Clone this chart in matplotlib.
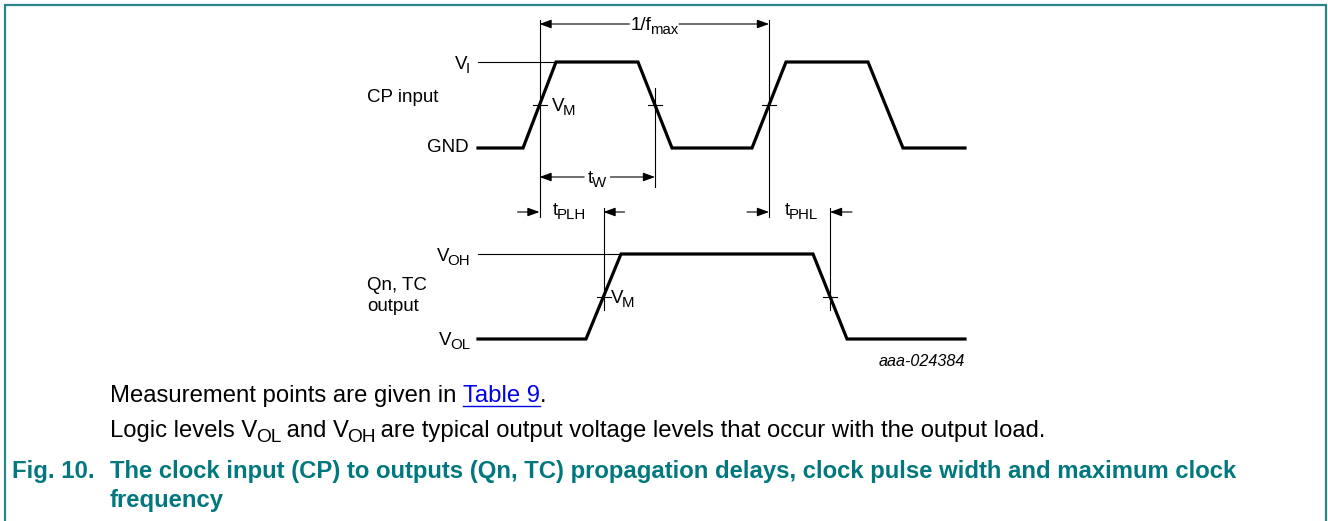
import numpy as np
import matplotlib
matplotlib.use("Agg")
import matplotlib.pyplot as plt

plt.rcParams["font.family"] = "Liberation Sans"

# ── Waveforms (time along the diagram, logic level 0/1) ───────────────────
cp_time = [478, 523, 556, 638, 672, 752, 786, 868, 903, 965]
cp_level = [0, 0, 1, 1, 0, 0, 1, 1, 0, 0]
out_time = [478, 586, 621, 813, 847, 965]
out_level = [0, 0, 1, 1, 0, 0]

cp_row = (148, 62)     # GND, VI
out_row = (339, 254)   # VOL, VOH

TEAL = "#00787d"
LBL = 13.5
BODY = 17.2


def to_y(level, row):
    return row[0] + (row[1] - row[0]) * np.asarray(level, dtype=float)


def crossings(t, lv, th=0.5):
    res = []
    for i in range(len(t) - 1):
        if (lv[i] - th) * (lv[i + 1] - th) < 0:
            res.append(t[i] + (th - lv[i]) / (lv[i + 1] - lv[i]) * (t[i + 1] - t[i]))
    return res


def arrow(ax, tip, tail):
    ax.annotate("", xy=tip, xytext=tail,
                arrowprops=dict(arrowstyle="-|>,head_length=0.6,head_width=0.22",
                                color="k", lw=0.8, mutation_scale=12,
                                shrinkA=0, shrinkB=0))


fig = plt.figure(figsize=(13.28, 5.21), dpi=100)
ax = fig.add_axes([0, 0, 1, 1])
ax.set_xlim(0, 1328)
ax.set_ylim(521, 0)
ax.axis("off")
R = fig.canvas.get_renderer()


def rich(x, y, parts, size, ha="left", color="k", weight="normal",
         sub_scale=0.8, drop=0.22, kern=0.1):
    """Text runs on one baseline; parts = [(string, is_subscript), ...]."""
    arts, cx, prev = [], x, None
    for s, is_sub in parts:
        if prev is not None and prev != is_sub:
            cx -= kern * size * 100 / 72
        fs = size * sub_scale if is_sub else size
        dy = size * drop * 100 / 72 if is_sub else 0
        t = ax.text(cx, y + dy, s, fontsize=fs, ha="left", va="baseline",
                    color=color, fontweight=weight)
        cx += t.get_window_extent(R).width
        arts.append(t)
        prev = is_sub
    total = cx - x
    shift = {"left": 0, "center": total / 2, "right": total}[ha]
    for t in arts:
        px, py = t.get_position()
        t.set_position((px - shift, py))
    return x - shift, x - shift + total, arts


# frame
ax.plot([5, 5, 1326, 1326], [521, 5, 5, 521], color="#2a8589", lw=1.6,
        solid_joinstyle="miter")

# waveforms
ax.plot(cp_time, to_y(cp_level, cp_row), color="k", lw=2.3, solid_joinstyle="miter")
ax.plot(out_time, to_y(out_level, out_row), color="k", lw=2.3, solid_joinstyle="miter")

# reference levels
ax.plot([478, cp_time[2]], [cp_row[1]] * 2, color="k", lw=0.8)
ax.plot([478, out_time[2]], [out_row[1]] * 2, color="k", lw=0.8)

cp_x = crossings(cp_time, cp_level)[:3]
out_x = crossings(out_time, out_level)
cp_vm = to_y(0.5, cp_row)
out_vm = to_y(0.5, out_row)

# vertical measurement lines
ax.plot([cp_x[0]] * 2, [20, 217], color="k", lw=0.8)
ax.plot([cp_x[1]] * 2, [88, 187], color="k", lw=0.8)
ax.plot([cp_x[2]] * 2, [20, 217], color="k", lw=0.8)
for x in out_x:
    ax.plot([x] * 2, [208, 310], color="k", lw=0.8)

# VM ticks
for x in cp_x:
    ax.plot([x - 7, x + 7], [cp_vm] * 2, color="k", lw=0.8)
for x in out_x:
    ax.plot([x - 7, x + 7], [out_vm] * 2, color="k", lw=0.8)

# 1/fmax
x0, x1, _ = rich((cp_x[0] + cp_x[2]) / 2, 30, [("1/f", 0), ("max", 1)], LBL,
                 ha="center", kern=0.08)
arrow(ax, (cp_x[0], 24), (x0 - 1, 24))
arrow(ax, (cp_x[2], 24), (x1 + 1, 24))

# tW
x0, x1, _ = rich((cp_x[0] + cp_x[1]) / 2, 183, [("t", 0), ("W", 1)], LBL,
                 ha="center", kern=0.06)
arrow(ax, (cp_x[0], 177), (x0 - 4, 177))
arrow(ax, (cp_x[1], 177), (x1 + 4, 177))

# tPLH / tPHL
arrow(ax, (cp_x[0], 212), (cp_x[0] - 22, 212))
arrow(ax, (out_x[0], 212), (out_x[0] + 21, 212))
rich(553, 215, [("t", 0), ("PLH", 1)], LBL, kern=0.06)
arrow(ax, (cp_x[2], 212), (cp_x[2] - 22, 212))
arrow(ax, (out_x[1], 212), (out_x[1] + 22, 212))
rich(785, 215, [("t", 0), ("PHL", 1)], LBL, kern=0.06)

# level labels
rich(470, 69, [("V", 0), ("I", 1)], LBL, ha="right")
ax.text(469, 147, "GND", fontsize=LBL, ha="right", va="center")
ax.text(367, 97, "CP input", fontsize=LBL, ha="left", va="center")
rich(552, 111, [("V", 0), ("M", 1)], LBL)
rich(470, 261, [("V", 0), ("OH", 1)], LBL, ha="right")
rich(470, 345, [("V", 0), ("OL", 1)], LBL, ha="right")
ax.text(367, 296, "Qn, TC\noutput", fontsize=LBL, ha="left", va="center",
        linespacing=1.25)
rich(611, 303, [("V", 0), ("M", 1)], LBL)
ax.text(965, 362, "aaa-024384", fontsize=11.6, style="italic", ha="right",
        va="center")

# notes
_, xe, _ = rich(110, 402, [("Measurement points are given in ", 0)], BODY)
lx0, lx1, _ = rich(xe, 402, [("Table 9", 0)], BODY, color="#0000ee")
rich(lx1, 402, [(".", 0)], BODY)
ax.plot([lx0, lx1], [406, 406], color="#0000ee", lw=1)

rich(110, 437, [("Logic levels V", 0), ("OL", 1), (" and V", 0), ("OH", 1),
                (" are typical output voltage levels that occur with the output load.", 0)],
     BODY, kern=0.06)

ax.text(12, 478, "Fig. 10.", fontsize=BODY, fontweight="bold", color=TEAL,
        ha="left", va="baseline")
ax.text(110, 478, "The clock input (CP) to outputs (Qn, TC) propagation delays, "
        "clock pulse width and maximum clock", fontsize=BODY, fontweight="bold",
        color=TEAL, ha="left", va="baseline")
ax.text(110, 507, "frequency", fontsize=BODY, fontweight="bold", color=TEAL,
        ha="left", va="baseline")

fig.savefig("out.png", dpi=100)
